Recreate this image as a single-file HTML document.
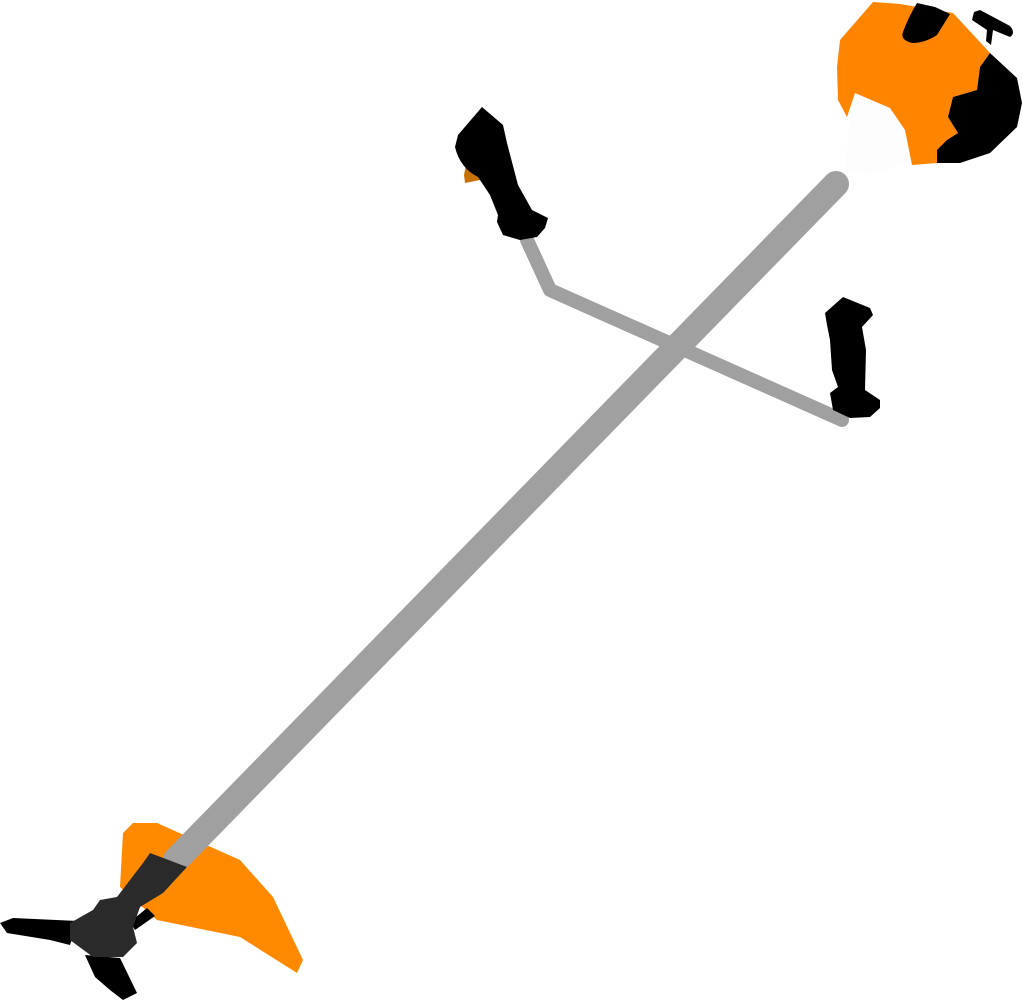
<!DOCTYPE html>
<html><head><meta charset="utf-8"><style>html,body{margin:0;padding:0;background:#fff}svg{display:block}</style></head>
<body>
<svg width="1022" height="1000" viewBox="0 0 1022 1000" xmlns="http://www.w3.org/2000/svg">
<polyline points="527,240 550,290 842,420" fill="none" stroke="#a0a0a0" stroke-width="14" stroke-linejoin="round" stroke-linecap="round"/>
<polygon points="853,93 900,108 915,160 870,175 845,170" fill="#fdfdfd"/>
<polygon points="133,823 157,823 240,860 273,897 303,960 297,973 240,937 157,920 120,887 123,833" fill="#ff8a00"/>
<line x1="836" y1="184" x2="176" y2="860" stroke="#a0a0a0" stroke-width="26" stroke-linecap="round"/>
<polygon points="130,922 147,908 155,916 135,930" fill="#000"/>
<polygon points="0,923 13,918 78,921 70,945 50,940 7,933" fill="#000"/>
<polygon points="85,955 120,958 137,993 123,1000 110,990 95,977" fill="#000"/>
<polygon points="150,853 187,867 163,893 140,907 133,927 137,943 123,957 93,957 70,940 70,923 93,910 100,900 117,897 143,863" fill="#2a2a2a"/>
<polygon points="873,2 900,4 953,13 990,53 980,67 977,90 953,97 948,117 958,133 947,140 937,163 912,165 905,130 890,108 855,93 847,117 838,100 837,67 840,40" fill="#ff8400"/>
<polygon points="990,53 1017,78 1022,103 1017,127 990,153 960,163 937,163 937,150 947,140 958,133 948,117 953,97 977,90 980,67" fill="#000"/>
<path d="M917,3 L935,7 L950,14 L937,35 Q925,43 912,43 Q900,40 903,32 Q908,18 917,3 Z" fill="#000"/>
<path d="M974,12 L980,10 L1010,26 Q1016,33 1010,37 L993,30 L991,45 L986,41 L987,30 L972,20 Z" fill="#000"/>
<polygon points="467,160 480,180 465,183 464,175" fill="#c87000"/>
<path d="M482,107 L503,125 L507,143 L518,185 L532,210 L548,218 L545,228 L537,237 L520,240 L503,235 L497,222 L498,215 L490,195 L478,177 Q460,168 455,147 L458,135 Z" fill="#000"/>
<path d="M843,297 L870,308 L873,315 L862,327 L866,350 L865,390 L880,400 L880,408 L870,417 L850,418 L833,410 L830,393 L838,387 L832,370 L830,340 L827,325 L825,313 Z" fill="#000"/>
</svg>
</body></html>
